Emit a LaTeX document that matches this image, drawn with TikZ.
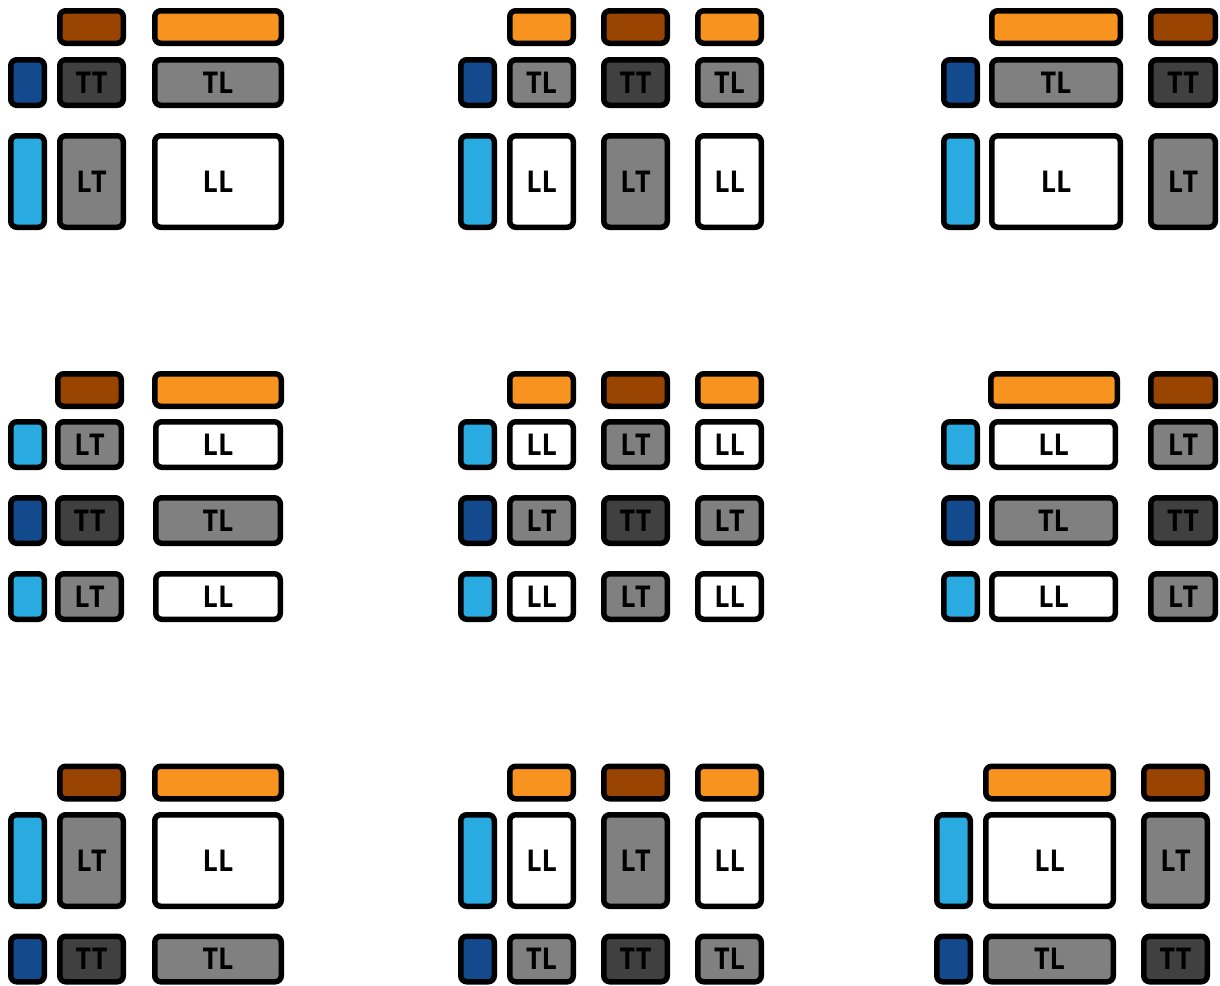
\documentclass[tikz,border=0pt]{standalone}
\usepackage{fontspec}
\usepackage{tikz}
\newfontfamily\tilefont{Open Sans}[FakeStretch=0.9]
\definecolor{tilebrown}{HTML}{994400}
\definecolor{tileorange}{HTML}{F7931E}
\definecolor{tiledarkblue}{HTML}{134A8E}
\definecolor{tilelightblue}{HTML}{29ABE2}
\definecolor{tilegrey}{HTML}{808080}
\definecolor{tiledarkgrey}{HTML}{404040}
\tikzset{
 tile/.style={draw=black,line width=5.5pt,rounded corners=6pt,inner sep=0pt,
              outer sep=0pt,text=black,font=\tilefont\bfseries\fontsize{30}{30}\selectfont},
 tile top/.style={tile,minimum height=32.5pt},
 tile small/.style={tile,minimum height=45.5pt},
 tile big/.style={tile,minimum height=91.5pt},
 tile strip/.style={minimum width=33.5pt},
 tile narrow/.style={minimum width=63.5pt},
 tile wide/.style={minimum width=126.5pt},
 tile brown/.style={fill=tilebrown},
 tile orange/.style={fill=tileorange},
 tile dblue/.style={fill=tiledarkblue},
 tile lblue/.style={fill=tilelightblue},
 tile grey/.style={fill=tilegrey},
 tile dgrey/.style={fill=tiledarkgrey},
 tile white/.style={fill=white}
}
\begin{document}
\begin{tikzpicture}[x=1pt,y=-1pt]
 \useasboundingbox (0,0) rectangle (1220,985);

 \node[tile top,tile narrow,tile brown] (p1ta) at (91.5,27) {};
 \node[tile top,tile wide,tile orange] (p1tb) at (218,27) {};
 \node[tile small,tile strip,tile dblue] (p1ss) at (27.5,82.5) {};
 \node[tile small,tile narrow,tile dgrey] (p1sa) at (91.5,82.5) {TT};
 \node[tile small,tile wide,tile grey] (p1sb) at (218,82.5) {TL};
 \node[tile big,tile strip,tile lblue] (p1bs) at (27.5,181.5) {};
 \node[tile big,tile narrow,tile grey] (p1ba) at (91.5,181.5) {LT};
 \node[tile big,tile wide,tile white] (p1bb) at (218,181.5) {LL};

 \node[tile top,tile narrow,tile orange] (p2ta) at (541.5,27) {};
 \node[tile top,tile narrow,tile brown] (p2tb) at (635.5,27) {};
 \node[tile top,tile narrow,tile orange] (p2tc) at (729.5,27) {};
 \node[tile small,tile strip,tile dblue] (p2ss) at (477.5,82.5) {};
 \node[tile small,tile narrow,tile grey] (p2sa) at (541.5,82.5) {TL};
 \node[tile small,tile narrow,tile dgrey] (p2sb) at (635.5,82.5) {TT};
 \node[tile small,tile narrow,tile grey] (p2sc) at (729.5,82.5) {TL};
 \node[tile big,tile strip,tile lblue] (p2bs) at (477.5,181.5) {};
 \node[tile big,tile narrow,tile white] (p2ba) at (541.5,181.5) {LL};
 \node[tile big,tile narrow,tile grey] (p2bb) at (635.5,181.5) {LT};
 \node[tile big,tile narrow,tile white] (p2bc) at (729.5,181.5) {LL};

 \node[tile top,tile wide,minimum width=128.5pt,tile orange] (p3ta) at (1056,27) {};
 \node[tile top,tile narrow,minimum width=64.5pt,tile brown] (p3tb) at (1183,27) {};
 \node[tile small,tile strip,tile dblue] (p3ss) at (960.5,82.5) {};
 \node[tile small,tile wide,minimum width=128.5pt,tile grey] (p3sa) at (1056,82.5) {TL};
 \node[tile small,tile narrow,minimum width=64.5pt,tile dgrey] (p3sb) at (1183,82.5) {TT};
 \node[tile big,tile strip,tile lblue] (p3bs) at (960.5,181.5) {};
 \node[tile big,tile wide,minimum width=128.5pt,tile white] (p3ba) at (1056,181.5) {LL};
 \node[tile big,tile narrow,minimum width=64.5pt,tile grey] (p3bb) at (1183,181.5) {LT};

 \node[tile top,tile narrow,tile brown] (p4ta) at (89.5,390) {};
 \node[tile top,tile wide,tile orange] (p4tb) at (218,390) {};
 \node[tile small,tile strip,tile lblue] (p4as) at (27.5,444.5) {};
 \node[tile small,tile narrow,tile grey] (p4aa) at (89.5,444.5) {LT};
 \node[tile small,tile wide,minimum width=124.5pt,tile white] (p4ab) at (218,444.5) {LL};
 \node[tile small,tile strip,tile dblue] (p4bs) at (27.5,520.5) {};
 \node[tile small,tile narrow,tile dgrey] (p4ba) at (89.5,520.5) {TT};
 \node[tile small,tile wide,minimum width=124.5pt,tile grey] (p4bb) at (218,520.5) {TL};
 \node[tile small,tile strip,tile lblue] (p4cs) at (27.5,596.5) {};
 \node[tile small,tile narrow,tile grey] (p4ca) at (89.5,596.5) {LT};
 \node[tile small,tile wide,minimum width=124.5pt,tile white] (p4cb) at (218,596.5) {LL};

 \node[tile top,tile narrow,tile orange] (p5ta) at (541.5,390) {};
 \node[tile top,tile narrow,tile brown] (p5tb) at (635.5,390) {};
 \node[tile top,tile narrow,tile orange] (p5tc) at (729.5,390) {};
 \node[tile small,tile strip,tile lblue] (p5as) at (477.5,444.5) {};
 \node[tile small,tile narrow,tile white] (p5aa) at (541.5,444.5) {LL};
 \node[tile small,tile narrow,tile grey] (p5ab) at (635.5,444.5) {LT};
 \node[tile small,tile narrow,tile white] (p5ac) at (729.5,444.5) {LL};
 \node[tile small,tile strip,tile dblue] (p5bs) at (477.5,520.5) {};
 \node[tile small,tile narrow,tile grey] (p5ba) at (541.5,520.5) {LT};
 \node[tile small,tile narrow,tile dgrey] (p5bb) at (635.5,520.5) {TT};
 \node[tile small,tile narrow,tile grey] (p5bc) at (729.5,520.5) {LT};
 \node[tile small,tile strip,tile lblue] (p5cs) at (477.5,596.5) {};
 \node[tile small,tile narrow,tile white] (p5ca) at (541.5,596.5) {LL};
 \node[tile small,tile narrow,tile grey] (p5cb) at (635.5,596.5) {LT};
 \node[tile small,tile narrow,tile white] (p5cc) at (729.5,596.5) {LL};

 \node[tile top,tile wide,tile orange] (p6ta) at (1054,390) {};
 \node[tile top,tile narrow,minimum width=64.5pt,tile brown] (p6tb) at (1183,390) {};
 \node[tile small,tile strip,tile lblue] (p6as) at (960.5,444.5) {};
 \node[tile small,tile wide,minimum width=123.5pt,tile white] (p6aa) at (1053.5,444.5) {LL};
 \node[tile small,tile narrow,minimum width=64.5pt,tile grey] (p6ab) at (1183,444.5) {LT};
 \node[tile small,tile strip,tile dblue] (p6bs) at (960.5,520.5) {};
 \node[tile small,tile wide,minimum width=123.5pt,tile grey] (p6ba) at (1053.5,520.5) {TL};
 \node[tile small,tile narrow,minimum width=64.5pt,tile dgrey] (p6bb) at (1183,520.5) {TT};
 \node[tile small,tile strip,tile lblue] (p6cs) at (960.5,596.5) {};
 \node[tile small,tile wide,minimum width=123.5pt,tile white] (p6ca) at (1053.5,596.5) {LL};
 \node[tile small,tile narrow,minimum width=64.5pt,tile grey] (p6cb) at (1183,596.5) {LT};

 \node[tile top,tile narrow,tile brown] (p7ta) at (91.5,782.5) {};
 \node[tile top,tile wide,tile orange] (p7tb) at (218,782.5) {};
 \node[tile big,tile strip,tile lblue] (p7bs) at (27.5,860.5) {};
 \node[tile big,tile narrow,tile grey] (p7ba) at (91.5,860.5) {LT};
 \node[tile big,tile wide,tile white] (p7bb) at (218,860.5) {LL};
 \node[tile small,tile strip,tile dblue] (p7ss) at (27.5,959) {};
 \node[tile small,tile narrow,tile dgrey] (p7sa) at (91.5,959) {TT};
 \node[tile small,tile wide,tile grey] (p7sb) at (218,959) {TL};

 \node[tile top,tile narrow,tile orange] (p8ta) at (541.5,782.5) {};
 \node[tile top,tile narrow,tile brown] (p8tb) at (635.5,782.5) {};
 \node[tile top,tile narrow,tile orange] (p8tc) at (729.5,782.5) {};
 \node[tile big,tile strip,tile lblue] (p8bs) at (477.5,860.5) {};
 \node[tile big,tile narrow,tile white] (p8ba) at (541.5,860.5) {LL};
 \node[tile big,tile narrow,tile grey] (p8bb) at (635.5,860.5) {LT};
 \node[tile big,tile narrow,tile white] (p8bc) at (729.5,860.5) {LL};
 \node[tile small,tile strip,tile dblue] (p8ss) at (477.5,959) {};
 \node[tile small,tile narrow,tile grey] (p8sa) at (541.5,959) {TL};
 \node[tile small,tile narrow,tile dgrey] (p8sb) at (635.5,959) {TT};
 \node[tile small,tile narrow,tile grey] (p8sc) at (729.5,959) {TL};

 \node[tile top,tile wide,minimum width=127.5pt,tile orange] (p9ta) at (1049.5,782.5) {};
 \node[tile top,tile narrow,tile brown] (p9tb) at (1175.5,782.5) {};
 \node[tile big,tile strip,tile lblue] (p9bs) at (953.5,860.5) {};
 \node[tile big,tile wide,minimum width=127.5pt,tile white] (p9ba) at (1049.5,860.5) {LL};
 \node[tile big,tile narrow,tile grey] (p9bb) at (1175.5,860.5) {LT};
 \node[tile small,tile strip,tile dblue] (p9ss) at (953.5,959) {};
 \node[tile small,tile wide,minimum width=127.5pt,tile grey] (p9sa) at (1049.5,959) {TL};
 \node[tile small,tile narrow,tile dgrey] (p9sb) at (1175.5,959) {TT};
\end{tikzpicture}
\end{document}
